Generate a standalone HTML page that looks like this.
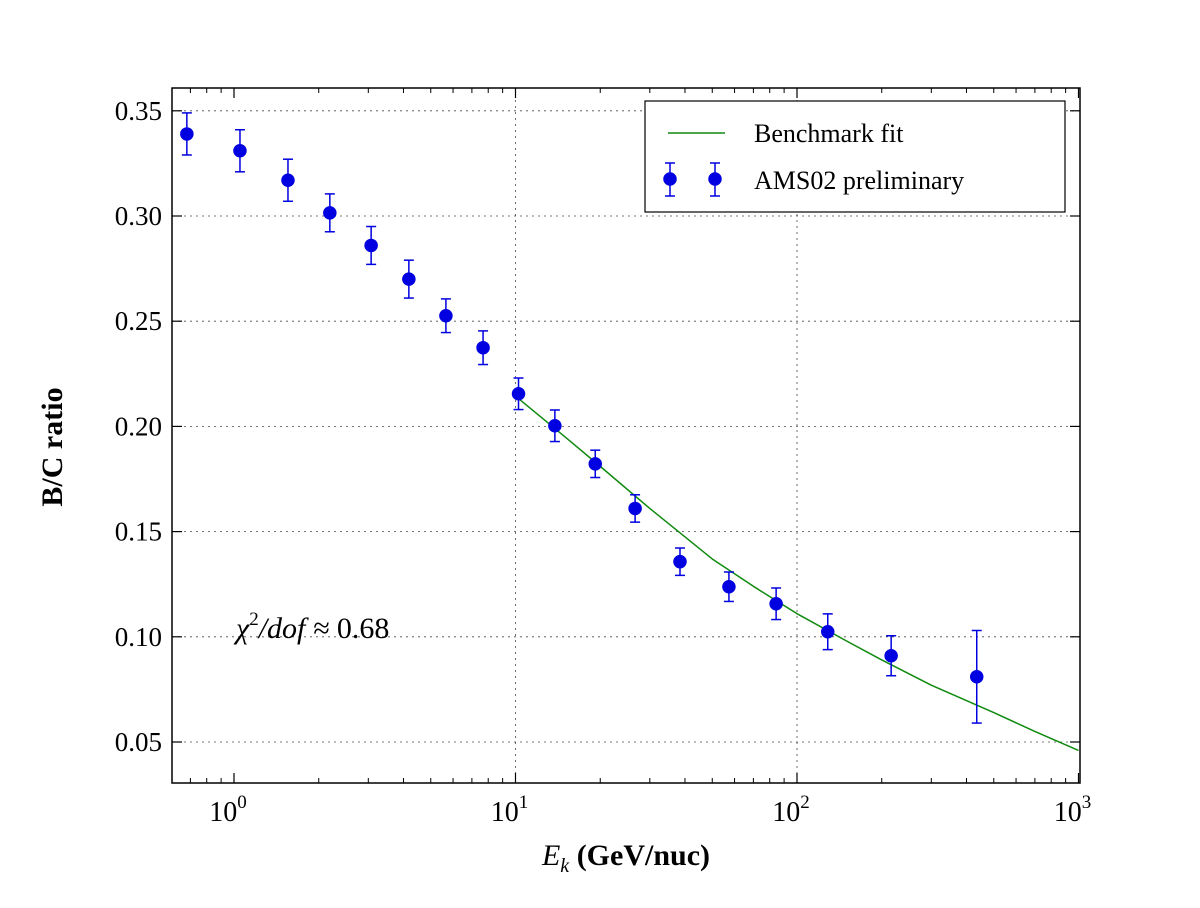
<!DOCTYPE html>
<html><head><meta charset="utf-8"><style>
body{margin:0;background:#fff}
svg text{font-family:"Liberation Serif",serif}
</style></head><body>
<svg id="chart" width="1200" height="903" xmlns="http://www.w3.org/2000/svg">
<rect width="1200" height="903" fill="#fff"/>
<g id="grid"></g>
<g id="fit"></g>
<g id="pts"></g>
<rect x="172" y="88" width="908" height="695" fill="none" stroke="#000" stroke-width="1.5"/>
<g id="ticks"></g>
<text x="50" y="435" font-size="30" font-weight="bold" text-anchor="middle" transform="rotate(-90 62 435)">B/C ratio</text>
<text x="626" y="865" font-size="30" text-anchor="middle"><tspan font-style="italic">E</tspan><tspan font-style="italic" font-size="20" dy="7">k</tspan><tspan dy="-7" font-weight="bold"> (GeV/nuc)</tspan></text>
<text x="236" y="638" font-size="30" font-style="italic">χ<tspan font-size="19" dy="-13" font-style="normal">2</tspan><tspan dy="13">/dof ≈ </tspan><tspan font-style="normal">0.68</tspan></text>
<g>
<rect x="645" y="101" width="420" height="111" fill="#fff" stroke="#000" stroke-width="1.2"/>
<line x1="668" y1="133" x2="725" y2="133" stroke="#108a10" stroke-width="1.5"/>
<text x="754" y="142" font-size="26">Benchmark fit</text>
<g stroke="#0000e0" stroke-width="1.5" fill="#0000e0">
<line x1="670" y1="163" x2="670" y2="196"/><line x1="665" y1="163" x2="675" y2="163"/><line x1="665" y1="196" x2="675" y2="196"/><circle cx="670" cy="179" r="6"/>
<line x1="715" y1="163" x2="715" y2="196"/><line x1="710" y1="163" x2="720" y2="163"/><line x1="710" y1="196" x2="720" y2="196"/><circle cx="715" cy="179" r="6"/>
</g>
<text x="754" y="189" font-size="26">AMS02 preliminary</text>
</g>
</svg>
<script>
const energies=[0.68,1.05,1.555,2.19,3.07,4.18,5.66,7.67,10.25,13.8,19.2,26.6,38.4,57.3,84.3,128.6,216,435];
const ratios=[0.339,0.331,0.317,0.3015,0.286,0.270,0.2526,0.2374,0.2155,0.2003,0.1822,0.161,0.1357,0.1238,0.1157,0.1024,0.091,0.081];
const errors=[0.010,0.010,0.010,0.009,0.009,0.009,0.008,0.008,0.0075,0.0075,0.0065,0.0065,0.0065,0.007,0.0075,0.0085,0.0095,0.022];
const fitE=[10.3,15,20,30,50,70,100,150,200,300,500,700,1000];
const fitY=[0.213,0.195,0.181,0.161,0.137,0.124,0.111,0.098,0.089,0.077,0.064,0.055,0.046];
const yTicks=[0.05,0.10,0.15,0.20,0.25,0.30,0.35];
const yTickLabels=["0.05","0.10","0.15","0.20","0.25","0.30","0.35"];
const xDecades=[0,1,2,3];
const NS="http://www.w3.org/2000/svg";
const X0=172,X1=1080,Y0=88,Y1=783;
function sx(e){return 234+281.5*Math.log10(e);}
function sy(v){return 742-(v-0.05)*2104;}
function mk(t,a,p){const el=document.createElementNS(NS,t);for(const k in a)el.setAttribute(k,a[k]);document.getElementById(p).appendChild(el);return el;}
yTicks.forEach((v,i)=>{const y=sy(v);
 const g=mk('line',{x1:X0,x2:X1,y1:y,y2:y,stroke:'#000','stroke-width':0.8,'stroke-dasharray':'2,4',opacity:0.7},'grid');
 
 
 mk('line',{x1:X0,x2:X0+10,y1:y,y2:y,stroke:'#000','stroke-width':1.2},'ticks');
 mk('line',{x1:X1,x2:X1-10,y1:y,y2:y,stroke:'#000','stroke-width':1.2},'ticks');
 const t=mk('text',{x:X0-10,y:y+9,'font-size':27,'text-anchor':'end'},'ticks');t.textContent=yTickLabels[i];
 
 
});
xDecades.forEach(d=>{const x=sx(Math.pow(10,d));
 if(d>0&&d<3){const g=mk('line',{x1:x,x2:x,y1:Y0,y2:Y1,stroke:'#000','stroke-width':0.8,'stroke-dasharray':'2,4',opacity:0.7},'grid');
 
 }
 mk('line',{x1:x,x2:x,y1:Y1,y2:Y1-10,stroke:'#000','stroke-width':1.2},'ticks');
 mk('line',{x1:x,x2:x,y1:Y0,y2:Y0+10,stroke:'#000','stroke-width':1.2},'ticks');
 const t=mk('text',{x:x-6,y:Y1+38,'font-size':28,'text-anchor':'middle'},'ticks');
 t.innerHTML='10<tspan font-size="19" dy="-13">'+d+'</tspan>';
 
 
});
for(let d=-1;d<3;d++)for(let m=2;m<10;m++){const x=sx(m*Math.pow(10,d));if(x<X0||x>X1)continue;
 mk('line',{x1:x,x2:x,y1:Y1,y2:Y1-5,stroke:'#000','stroke-width':1},'ticks');
 mk('line',{x1:x,x2:x,y1:Y0,y2:Y0+5,stroke:'#000','stroke-width':1},'ticks');}
const fp=mk('polyline',{points:fitE.map((e,i)=>sx(e)+','+sy(fitY[i])).join(' '),fill:'none',stroke:'#108a10','stroke-width':1.5,'stroke-linejoin':'round'},'fit');


energies.forEach((e,i)=>{const x=sx(e),y=sy(ratios[i]),ya=sy(ratios[i]+errors[i]),yb=sy(ratios[i]-errors[i]);
 const g=document.createElementNS(NS,'g');document.getElementById('pts').appendChild(g);
 
 
 g.setAttribute('stroke','#0000e0');g.setAttribute('stroke-width','1.5');g.setAttribute('fill','#0000e0');
 [[x,ya,x,yb],[x-5,ya,x+5,ya],[x-5,yb,x+5,yb]].forEach(c=>{const l=document.createElementNS(NS,'line');l.setAttribute('x1',c[0]);l.setAttribute('y1',c[1]);l.setAttribute('x2',c[2]);l.setAttribute('y2',c[3]);g.appendChild(l);});
 const c=document.createElementNS(NS,'circle');c.setAttribute('cx',x);c.setAttribute('cy',y);c.setAttribute('r',6);g.appendChild(c);
});
</script>
</body></html>
